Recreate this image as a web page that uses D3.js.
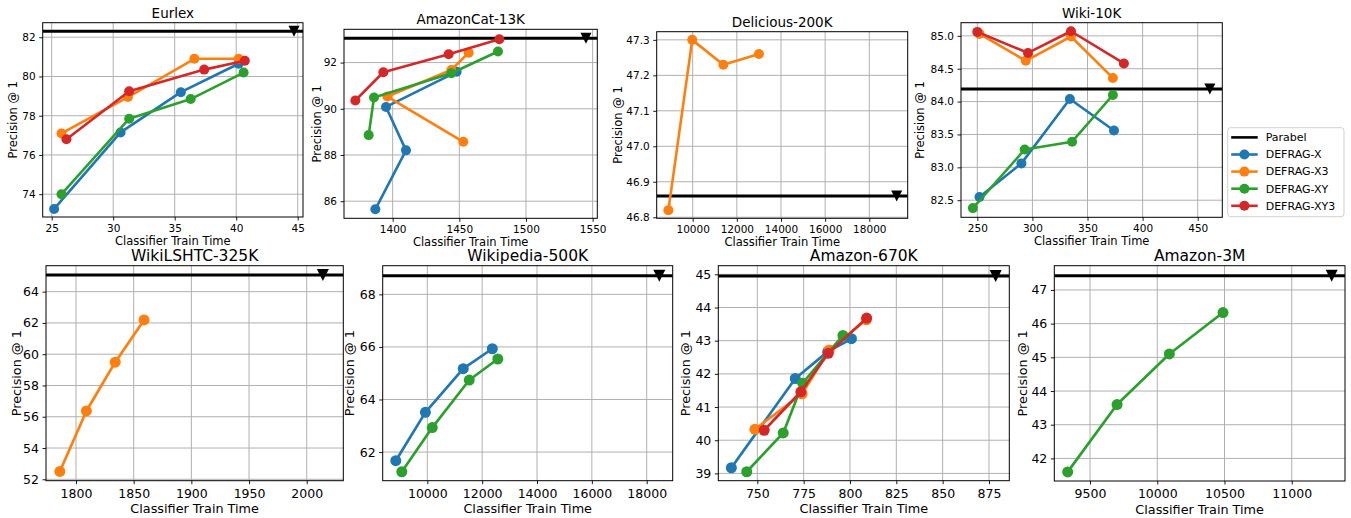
<!DOCTYPE html>
<html><head><meta charset="utf-8">
<script src="https://cdn.jsdelivr.net/npm/d3@7"></script>
<style>body{margin:0;background:#fff} svg{font-family:"DejaVu Sans",sans-serif}</style>
</head><body><svg id="c" width="1351" height="518"></svg>
<script>
// ---------------- DATA ----------------
const seriesNames = ["DEFRAG-X", "DEFRAG-X3", "DEFRAG-XY", "DEFRAG-XY3"];
const seriesColors = ["#1f77b4", "#ff7f0e", "#2ca02c", "#d62728"];
const datasets = ["Eurlex", "AmazonCat-13K", "Delicious-200K", "Wiki-10K",
                  "WikiLSHTC-325K", "Wikipedia-500K", "Amazon-670K", "Amazon-3M"];
const parabelTime = [44.7, 1545, 19240, 461, 2014, 18460, 878.6, 11297];
const parabelP1   = [82.3, 93.05, 46.86, 84.19, 65.07, 68.71, 44.95, 47.42];

// [classifier train time, precision@1]
const eurlexX   = [[25.2,73.25],[30.6,77.15],[35.5,79.2],[40.2,80.65]];
const eurlexX3  = [[25.8,77.1],[31.2,78.95],[36.6,80.9],[40.2,80.9]];
const eurlexXY  = [[25.8,74.0],[31.3,77.85],[36.3,78.85],[40.6,80.2]];
const eurlexXY3 = [[26.2,76.8],[31.3,79.25],[37.4,80.35],[40.7,80.8]];

const amzcatX   = [[1387,85.65],[1410,88.2],[1395,90.08],[1448,91.6]];
const amzcatX3  = [[1453,88.57],[1396,90.53],[1444,91.68],[1457,92.43]];
const amzcatXY  = [[1382,88.86],[1386,90.49],[1444,91.54],[1479,92.48]];
const amzcatXY3 = [[1372,90.36],[1393,91.58],[1442,92.36],[1480,93.01]];

const deliciousX3 = [[8900,46.82],[9980,47.30],[11390,47.23],[13000,47.26]];

const wiki10kX   = [[252,82.55],[290,83.06],[334,84.04],[374,83.56]];
const wiki10kX3  = [[252,85.03],[294,84.62],[335,84.99],[373,84.36]];
const wiki10kXY  = [[246,82.38],[293,83.27],[336,83.39],[373,84.1]];
const wiki10kXY3 = [[250,85.06],[296,84.74],[335,85.07],[383,84.58]];

const lshtcX3 = [[1786,52.5],[1809,56.37],[1834,59.49],[1859,62.19]];

const wikipediaX  = [[8850,61.67],[9930,63.51],[11310,65.17],[12370,65.93]];
const wikipediaXY = [[9070,61.25],[10180,62.93],[11530,64.74],[12570,65.54]];

const amz670X   = [[736,39.17],[770.5,41.86],[788,42.67],[800.8,43.06]];
const amz670X3  = [[748.7,40.33],[774.2,41.4],[788.8,42.72],[808.8,43.63]];
const amz670XY  = [[744.3,39.05],[764,40.22],[774.5,41.72],[796.2,43.16]];
const amz670XY3 = [[753.7,40.3],[773.5,41.46],[788.3,42.62],[809,43.68]];

const amz3mXY = [[9334,41.6],[9701,43.6],[10090,45.1],[10489,46.33]];

const panelSeries = [
  [eurlexX, eurlexX3, eurlexXY, eurlexXY3],
  [amzcatX, amzcatX3, amzcatXY, amzcatXY3],
  [null, deliciousX3, null, null],
  [wiki10kX, wiki10kX3, wiki10kXY, wiki10kXY3],
  [null, lshtcX3, null, null],
  [wikipediaX, null, wikipediaXY, null],
  [amz670X, amz670X3, amz670XY, amz670XY3],
  [null, null, amz3mXY, null]
];

const xTicks = [
  [25,30,35,40,45],
  [1400,1450,1500,1550],
  [10000,12000,14000,16000,18000],
  [250,300,350,400,450],
  [1800,1850,1900,1950,2000],
  [10000,12000,14000,16000,18000],
  [750,775,800,825,850,875],
  [9500,10000,10500,11000]
];
const yTicks = [
  [74,76,78,80,82],
  [86,88,90,92],
  [46.8,46.9,47.0,47.1,47.2,47.3],
  [82.5,83.0,83.5,84.0,84.5,85.0],
  [52,54,56,58,60,62,64],
  [62,64,66,68],
  [39,40,41,42,43,44,45],
  [42,43,44,45,46,47]
];
const yFormats = ["d","d",".1f",".1f","d","d","d","d"];

// ---------------- LAYOUT ----------------
const layout = [
  {l:42.7, r:303,   t:22.7,  b:217,   xd:[24.27,45.43],  yd:[72.84,82.74],   yl:29.4, row:0},
  {l:344,  r:597.3, t:29.3,  b:218.3, xd:[1363.5,1553.5],yd:[85.26,93.44],   yl:27.3, row:0},
  {l:656.7,r:907.7, t:31.7,  b:218.3, xd:[8370,19739],   yd:[46.797,47.323], yl:38.4, row:0},
  {l:961,  r:1222.3,t:22.7,  b:217.3, xd:[235.2,472.3],  yd:[82.24,85.2],    yl:41,   row:0},
  {l:46,   r:343.3, t:265.7, b:480.7, xd:[1774,2031.7],  yd:[51.91,65.66],   yl:29.3, row:1},
  {l:382.7,r:672.7, t:265.7, b:480.7, xd:[8373,18948],   yd:[60.91,69.09],   yl:32.7, row:1},
  {l:718.3,r:1009.3,t:265.7, b:480.7, xd:[728.96,885.96],yd:[38.78,45.26],   yl:32.3, row:1},
  {l:1054.3,r:1345, t:265.7, b:481,   xd:[9234.5,11396], yd:[41.33,47.72],   yl:32,   row:1}
];
const rowStyle = [
  {tick:10.5, label:11.5, title:13.5, tickBase:14.5, labelBase:27.5, r:5,   tri:11, lw:2.6},
  {tick:12.5, label:12.8, title:15.5, tickBase:17,   labelBase:32.5, r:5.5, tri:12, lw:2.7}
];

const svg = d3.select("#c");
const triDown = { draw(ctx, size) { const h = Math.sqrt(size)/2;
  ctx.moveTo(-h,-h); ctx.lineTo(h,-h); ctx.lineTo(0,h); ctx.closePath(); } };

layout.forEach((p, i) => {
  const st = rowStyle[p.row];
  const x = d3.scaleLinear().domain(p.xd).range([p.l, p.r]);
  const y = d3.scaleLinear().domain(p.yd).range([p.b, p.t]);
  const g = svg.append("g");
  const clipId = "clip" + i;
  svg.append("clipPath").attr("id", clipId).append("rect")
    .attr("x", p.l).attr("y", p.t).attr("width", p.r - p.l).attr("height", p.b - p.t);

  // grid
  g.append("g").selectAll("line.gx").data(xTicks[i]).join("line")
    .attr("x1", d => x(d)).attr("x2", d => x(d)).attr("y1", p.t).attr("y2", p.b)
    .attr("stroke", "#b0b0b0").attr("stroke-width", 1);
  g.append("g").selectAll("line.gy").data(yTicks[i]).join("line")
    .attr("y1", d => y(d)).attr("y2", d => y(d)).attr("x1", p.l).attr("x2", p.r)
    .attr("stroke", "#b0b0b0").attr("stroke-width", 1);

  // axes
  const xAxis = d3.axisBottom(x).tickValues(xTicks[i]).tickFormat(d3.format("d"))
    .tickSizeOuter(0).tickSize(3.5).tickPadding(3.5);
  const yAxis = d3.axisLeft(y).tickValues(yTicks[i]).tickFormat(d3.format(yFormats[i]))
    .tickSizeOuter(0).tickSize(3.5).tickPadding(3.5);
  const gx = g.append("g").attr("transform", `translate(0,${p.b})`).call(xAxis);
  const gy = g.append("g").attr("transform", `translate(${p.l},0)`).call(yAxis);
  [gx, gy].forEach(a => {
    a.select(".domain").remove();
    a.selectAll("text").attr("font-size", st.tick).attr("fill", "#000")
      .attr("font-family", "DejaVu Sans");
    a.selectAll("line").attr("stroke", "#000").attr("stroke-width", 0.9);
  });
  gx.selectAll("text").attr("dy", null).attr("y", st.tickBase);

  const plot = g.append("g").attr("clip-path", `url(#${clipId})`);
  // Parabel
  plot.append("line").attr("x1", p.l).attr("x2", p.r)
    .attr("y1", y(parabelP1[i])).attr("y2", y(parabelP1[i]))
    .attr("stroke", "#000").attr("stroke-width", 3);
  plot.append("path")
    .attr("d", d3.symbol(triDown, st.tri * st.tri)())
    .attr("transform", `translate(${x(parabelTime[i])},${y(parabelP1[i])})`)
    .attr("fill", "#000");

  // series
  const line = d3.line().x(d => x(d[0])).y(d => y(d[1]));
  panelSeries[i].forEach((s, k) => {
    if (!s) return;
    plot.append("path").datum(s).attr("d", line).attr("fill", "none")
      .attr("stroke", seriesColors[k]).attr("stroke-width", st.lw)
      .attr("stroke-linejoin", "round");
    plot.append("g").selectAll("circle").data(s).join("circle")
      .attr("cx", d => x(d[0])).attr("cy", d => y(d[1])).attr("r", st.r)
      .attr("fill", seriesColors[k]);
  });

  // frame
  g.append("rect").attr("x", p.l).attr("y", p.t).attr("width", p.r - p.l).attr("height", p.b - p.t)
    .attr("fill", "none").attr("stroke", "#000").attr("stroke-width", 1);

  // title & labels
  g.append("text").attr("x", (p.l + p.r) / 2).attr("y", p.t - 5)
    .attr("text-anchor", "middle").attr("font-size", st.title).text(datasets[i]);
  g.append("text").attr("x", (p.l + p.r) / 2).attr("y", p.b + st.labelBase)
    .attr("text-anchor", "middle").attr("font-size", st.label).text("Classifier Train Time");
  g.append("text").attr("transform", `translate(${p.l - p.yl},${(p.t + p.b) / 2}) rotate(-90)`)
    .attr("text-anchor", "middle").attr("dy", "0.35em").attr("font-size", st.label).text("Precision @ 1");
});

// legend
const lg = svg.append("g").attr("transform", "translate(1227.7,127.7)");
lg.append("rect").attr("width", 116.3).attr("height", 89).attr("rx", 3)
  .attr("fill", "#fff").attr("fill-opacity", 0.8).attr("stroke", "#d0d0d0");
const legendItems = ["Parabel"].concat(seriesNames);
const legendColors = ["#000"].concat(seriesColors);
legendItems.forEach((name, j) => {
  const yy = 9.7 + j * 17.1;
  lg.append("line").attr("x1", 3.5).attr("x2", 30).attr("y1", yy).attr("y2", yy)
    .attr("stroke", legendColors[j]).attr("stroke-width", 2.6);
  if (j > 0) lg.append("circle").attr("cx", 16.7).attr("cy", yy).attr("r", 5).attr("fill", legendColors[j]);
  lg.append("text").attr("x", 38).attr("y", yy).attr("dy", "0.35em")
    .attr("font-size", 11).text(name);
});
</script>
</body></html>
